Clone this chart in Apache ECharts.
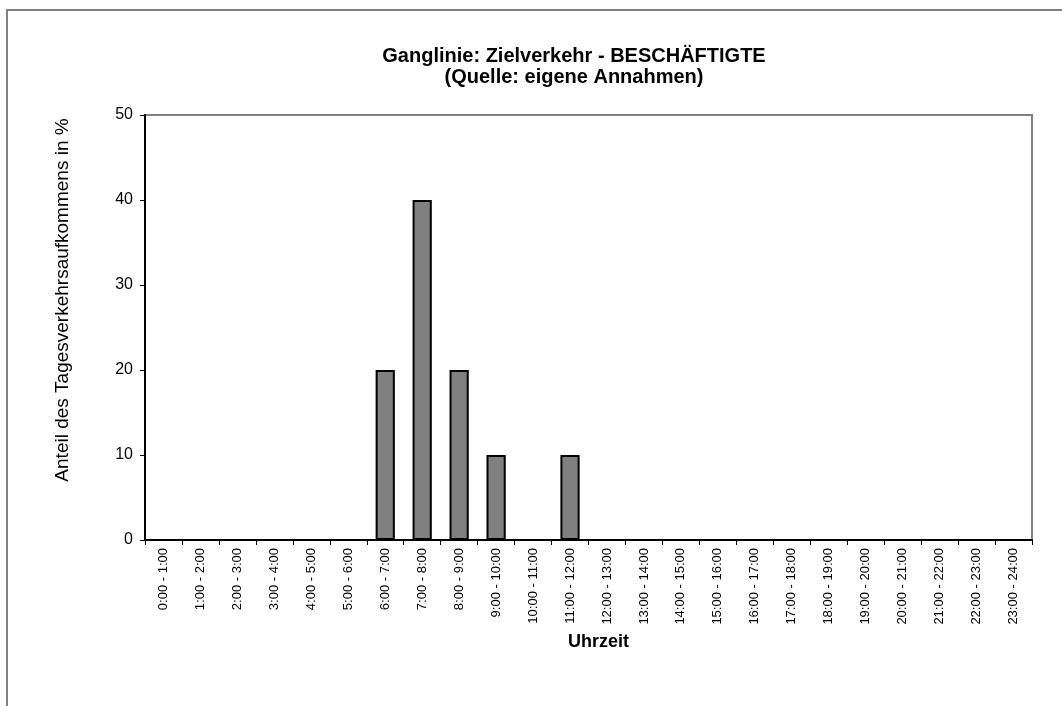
<!DOCTYPE html>
<html>
<head>
<meta charset="utf-8">
<script src="https://cdn.jsdelivr.net/npm/echarts@6/dist/echarts.min.js"></script>
<style>
html,body{margin:0;padding:0;background:#fff;}
#c{width:1062px;height:706px;}
</style>
</head>
<body>
<div id="c"></div>
<script>
const categories = ["0:00 - 1:00","1:00 - 2:00","2:00 - 3:00","3:00 - 4:00","4:00 - 5:00","5:00 - 6:00","6:00 - 7:00","7:00 - 8:00","8:00 - 9:00","9:00 - 10:00","10:00 - 11:00","11:00 - 12:00","12:00 - 13:00","13:00 - 14:00","14:00 - 15:00","15:00 - 16:00","16:00 - 17:00","17:00 - 18:00","18:00 - 19:00","19:00 - 20:00","20:00 - 21:00","21:00 - 22:00","22:00 - 23:00","23:00 - 24:00"];
const values = [0,0,0,0,0,0,20,40,20,10,0,10,0,0,0,0,0,0,0,0,0,0,0,0];
const titleText = "Ganglinie: Zielverkehr - BESCHÄFTIGTE\n(Quelle: eigene Annahmen)";
const yAxisName = "Anteil des Tagesverkehrsaufkommens in %";
const xAxisName = "Uhrzeit";

const chart = echarts.init(document.getElementById('c'), null, {renderer:'canvas'});
const font = "'Liberation Sans', Arial, sans-serif";
chart.setOption({
  backgroundColor: '#ffffff',
  animation: false,
  textStyle: {fontFamily: font},
  graphic: [{
    type: 'rect', z: 0, silent: true,
    shape: {x: 7, y: 10, width: 1200, height: 900},
    style: {fill: 'none', stroke: '#808080', lineWidth: 2}
  }, {
    type: 'text', silent: true,
    x: 63, y: 300, rotation: Math.PI / 2,
    style: {
      text: yAxisName, fill: '#000', font: "19px 'Liberation Sans', Arial, sans-serif",
      align: 'center', verticalAlign: 'middle'
    }
  }],
  title: {
    text: titleText,
    left: 569, top: 41, textAlign: 'center',
    textStyle: {fontFamily: font, fontSize: 20, fontWeight: 'bold', color: '#000', lineHeight: 21}
  },
  grid: {
    left: 145, top: 115, right: 30, bottom: 166,
    show: true, borderColor: '#808080', borderWidth: 2, backgroundColor: 'transparent'
  },
  xAxis: {
    type: 'category',
    data: categories,
    name: xAxisName,
    nameLocation: 'middle',
    nameGap: 93,
    nameTextStyle: {fontFamily: font, fontSize: 18, fontWeight: 'bold', color: '#000', padding: [0, 0, 0, 20]},
    axisLine: {lineStyle: {color: '#000', width: 2}},
    axisTick: {show: true, length: 5, lineStyle: {color: '#000', width: 1}},
    axisLabel: {rotate: 90, fontSize: 13, color: '#000', margin: 8, interval: 0, fontFamily: font},
    splitLine: {show: false}
  },
  yAxis: {
    type: 'value',
    min: 0, max: 50, interval: 10,
    axisLine: {show: true, lineStyle: {color: '#000', width: 2}},
    axisTick: {show: true, length: 5, lineStyle: {color: '#000', width: 1}},
    axisLabel: {fontSize: 16, color: '#000', margin: 12, fontFamily: font},
    splitLine: {show: false}
  },
  series: [{
    type: 'bar',
    data: values,
    barWidth: '52%',
    itemStyle: {color: '#808080', borderColor: '#000', borderWidth: 2}
  }]
});
</script>
</body>
</html>
